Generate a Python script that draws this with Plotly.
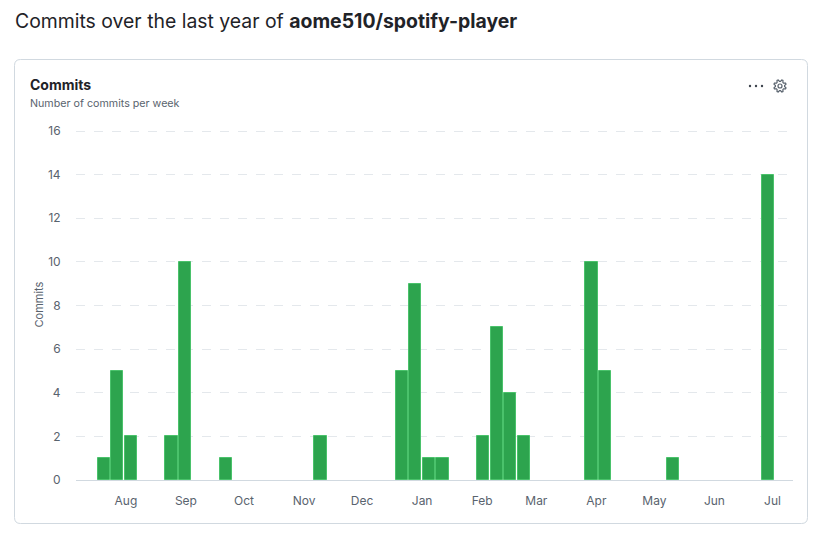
import numpy as np
import pandas as pd
import plotly.graph_objects as go

# ---------------- data ----------------
week_starts = pd.date_range("2022-07-17", periods=50, freq="7D")
commits = [1, 5, 2, 0, 0, 2, 10, 0, 0, 1,
           0, 0, 0, 0, 0, 0, 2, 0, 0, 0,
           0, 0, 5, 9, 1, 1, 0, 0, 2, 7,
           4, 2, 0, 0, 0, 0, 10, 5, 0, 0,
           0, 0, 1, 0, 0, 0, 0, 0, 0, 14]
month_starts = ["2022-08-01", "2022-09-01", "2022-10-01", "2022-11-01", "2022-12-01",
                "2023-01-01", "2023-02-01", "2023-03-01", "2023-04-01", "2023-05-01",
                "2023-06-01", "2023-07-01"]
month_labels = ["Aug", "Sep", "Oct", "Nov", "Dec", "Jan", "Feb", "Mar", "Apr", "May", "Jun", "Jul"]
y_ticks = [0, 2, 4, 6, 8, 10, 12, 14, 16]

W, H = 825, 542
L, R, T, B = 76, 32, 129, 62
PW, PH = W - L - R, H - T - B
Y_TOP = 16 * PH / (PH - 2)   # keeps the 16 gridline 2px inside the plot area


def px(x):
    return (x - L) / PW


def py(y):
    return (H - B - y) / PH


WEEK_MS = 7 * 24 * 3600 * 1000
FONT = "Inter, 'Liberation Sans', sans-serif"
GRAY = "#59636e"

line_w = [1 if v > 0 else 0 for v in commits]

fig = go.Figure()
fig.add_trace(go.Bar(
    x=week_starts, y=commits,
    xperiod=WEEK_MS, xperiodalignment="middle",
    width=0.9 * WEEK_MS,
    marker=dict(color="#2da44e", line=dict(color="#4ac26b", width=line_w)),
    hoverinfo="skip",
))

# card border (rounded rectangle)
x0, x1, y0, y1, r = 14.5, 807.5, 59.5, 523.5, 6
rx, ry = r / PW, r / PH
X0, X1, Y0, Y1 = px(x0), px(x1), py(y0), py(y1)
card = (f"M{X0 + rx},{Y0} L{X1 - rx},{Y0} Q{X1},{Y0} {X1},{Y0 - ry} "
        f"L{X1},{Y1 + ry} Q{X1},{Y1} {X1 - rx},{Y1} L{X0 + rx},{Y1} "
        f"Q{X0},{Y1} {X0},{Y1 + ry} L{X0},{Y0 - ry} Q{X0},{Y0} {X0 + rx},{Y0} Z")
shapes = [dict(type="path", xref="paper", yref="paper", path=card,
               line=dict(color="#d1d9e0", width=1), fillcolor="rgba(0,0,0,0)", layer="below")]

# gear icon
cx, cy = 780, 86
pts = []
n = 8
for i in range(n * 4):
    a = 2 * np.pi * i / (n * 4)
    rr = 6.3 if (i % 4) in (1, 2) else 4.6
    pts.append((cx + rr * np.cos(a + np.pi / (n * 4)), cy + rr * np.sin(a + np.pi / (n * 4))))
gear = "M" + " L".join(f"{px(a)},{py(b)}" for a, b in pts) + " Z"
shapes.append(dict(type="path", xref="paper", yref="paper", path=gear,
                   line=dict(color=GRAY, width=1.2), fillcolor="rgba(0,0,0,0)"))
shapes.append(dict(type="circle", xref="paper", yref="paper",
                   x0=px(cx - 2), x1=px(cx + 2), y0=py(cy - 2), y1=py(cy + 2),
                   line=dict(color=GRAY, width=1.2)))
# dots
for dx in (750, 756, 762):
    shapes.append(dict(type="circle", xref="paper", yref="paper",
                       x0=px(dx - 1.2), x1=px(dx + 1.2), y0=py(86 - 1.2), y1=py(86 + 1.2),
                       fillcolor="#3d444d", line=dict(width=0)))

annotations = [
    dict(text="Commits over the last year of <b>aome510/spotify-player</b>",
         x=px(13), y=py(21), xref="paper", yref="paper", xanchor="left", yanchor="middle",
         showarrow=False, font=dict(family=FONT, size=19.4, color="#1f2328")),
    dict(text="<b>Commits</b>", x=px(28), y=py(84), xref="paper", yref="paper",
         xanchor="left", yanchor="middle", showarrow=False,
         font=dict(family=FONT, size=14, color="#1f2328")),
    dict(text="Number of commits per week", x=px(28), y=py(104), xref="paper", yref="paper",
         xanchor="left", yanchor="middle", showarrow=False,
         font=dict(family=FONT, size=10.7, color=GRAY)),
]

fig.update_layout(
    width=W, height=H,
    margin=dict(l=L, r=R, t=T, b=B, pad=0),
    paper_bgcolor="white", plot_bgcolor="white",
    showlegend=False, bargap=0,
    shapes=shapes, annotations=annotations,
    font=dict(family=FONT, size=12, color=GRAY),
)
fig.update_xaxes(
    type="date",
    range=["2022-07-06 05:00", "2023-07-11 14:00"],
    tickvals=month_starts, ticktext=month_labels,
    showgrid=False, showline=True, linecolor="#d1d9e0", linewidth=1,
    ticks="outside", ticklen=10, tickcolor="rgba(0,0,0,0)",
    tickfont=dict(size=12, color=GRAY), zeroline=False,
)
fig.update_yaxes(
    range=[0, Y_TOP], tickvals=y_ticks,
    showgrid=True, gridcolor="#e4e8ec", griddash="dash", gridwidth=1,
    zeroline=False, showline=False,
    ticks="outside", ticklen=12, tickcolor="rgba(0,0,0,0)",
    tickfont=dict(size=12, color=GRAY),
    title=dict(text="Commits", font=dict(size=11, color=GRAY), standoff=2),
)

fig.write_html("out.html")
